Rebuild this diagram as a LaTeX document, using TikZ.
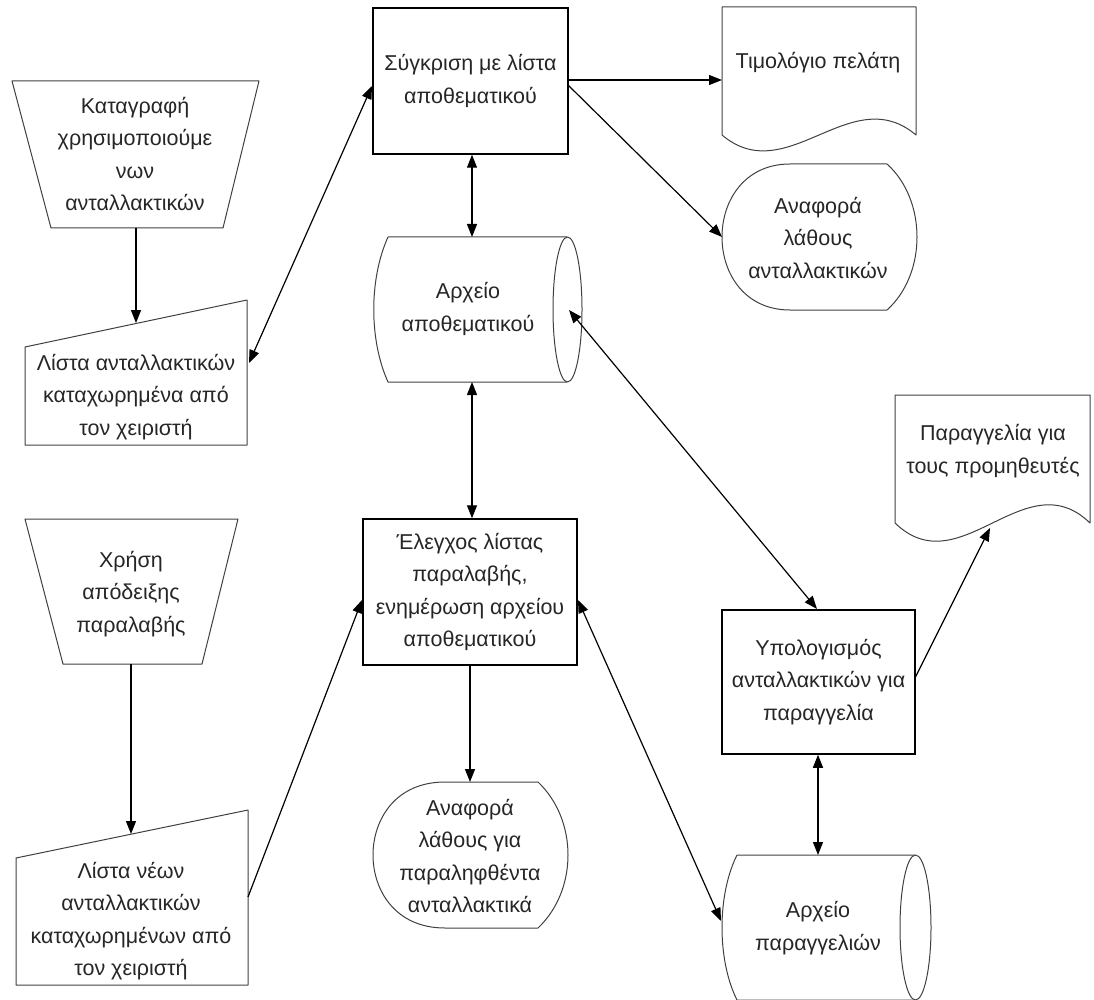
\documentclass[tikz,border=0pt]{standalone}
\usepackage{fontspec}
\setmainfont{Liberation Sans}
\usetikzlibrary{arrows.meta}
\tikzset{
  txt/.style={align=center, text=black!85, font=\fontsize{21.5}{32.5}\selectfont, inner sep=0pt},
  procbox/.style={draw=black, line width=1.5pt, inner sep=0pt, align=center, text=black!85, font=\fontsize{21.5}{32.5}\selectfont},
  outline/.style={draw=black!75, line width=1pt, line join=round},
  conn/.style={draw=black, line width=1.2pt},
  tip/.style={-{Triangle[length=13pt,width=10pt]}},
  bitip/.style={{Triangle[length=13pt,width=10pt]}-{Triangle[length=13pt,width=10pt]}}
}
\begin{document}
\begin{tikzpicture}[x=1pt,y=-1pt]
\useasboundingbox (0,0) rectangle (1094,1000);
\begin{scope}
\clip (0,0) rectangle (1094,1000);
% trapezoid 1
\draw[outline] (12,81) -- (259,81) -- (223,228) -- (51,228) -- cycle;
\node[txt] (trapA) at (135,154) {Καταγραφή\\χρησιμοποιούμε\\νων\\ανταλλακτικών};
\coordinate (trapAb) at (136,228);
% manual input 1
\draw[outline] (25,347) -- (247,300) -- (247,445) -- (25,445) -- cycle;
\node[txt] (manA) at (136,397) {Λίστα ανταλλακτικών\\καταχωρημένα από\\τον χειριστή};
\coordinate (manAt) at (136,323);
\coordinate (manAr) at (249,363);
% trapezoid 2
\draw[outline] (25,519) -- (238,519) -- (202,664) -- (63,664) -- cycle;
\node[txt] (trapB) at (131,594) {Χρήση\\απόδειξης\\παραλαβής};
\coordinate (trapBb) at (131,664);
% manual input 2
\draw[outline] (16,858) -- (248,810) -- (248,985) -- (16,985) -- cycle;
\node[txt] (manB) at (131,921) {Λίστα νέων\\ανταλλακτικών\\καταχωρημένων από\\τον χειριστή};
\coordinate (manBt) at (131,834);
\coordinate (manBr) at (248,897);
% process boxes
\node[procbox, minimum width=195pt, minimum height=146pt] (boxA) at (470.5,81) {Σύγκριση με λίστα\\αποθεματικού};
\node[procbox, minimum width=214pt, minimum height=146pt] (boxB) at (470,592) {Έλεγχος λίστας\\παραλαβής,\\ενημέρωση αρχείου\\αποθεματικού};
\node[procbox, minimum width=193pt, minimum height=144pt] (boxC) at (818.5,682) {Υπολογισμός\\ανταλλακτικών για\\παραγγελία};
% cylinder 1
\draw[outline] (388,237) -- (567,237) (567,382) -- (388,382) .. controls (369,340) and (369,279) .. (388,237);
\draw[outline] (567.5,309.5) ellipse [x radius=14.5, y radius=72.5];
\node[txt] (cylA) at (468,309) {Αρχείο\\αποθεματικού};
\coordinate (cylAt) at (472,237);
\coordinate (cylAb) at (472,382);
\coordinate (cylAr) at (569,310);
% cylinder 2
\draw[outline] (737,855) -- (915,855) (915,1000) -- (737,1000) .. controls (717,960) and (717,895) .. (737,855);
\draw[outline] (915.5,927.5) ellipse [x radius=15.5, y radius=72.5];
\node[txt] (cylB) at (818,928) {Αρχείο\\παραγγελιών};
\coordinate (cylBt) at (818,855);
\coordinate (cylBl) at (721,921);
% document 1
\draw[outline] (722,7) -- (916,7) -- (916,135) .. controls (851,80) and (787,190) .. (722,135) -- cycle;
\node[txt] (docA) at (818,63) {Τιμολόγιο πελάτη};
\coordinate (docAl) at (722,80);
% document 2
\draw[outline] (895,395) -- (1090,395) -- (1090,523) .. controls (1025,460) and (960,586) .. (895,523) -- cycle;
\node[txt] (docB) at (993,451) {Παραγγελία για\\τους προμηθευτές};
\coordinate (docBw) at (990,528);
% display 1
\draw[outline] (790,164) -- (887,164) .. controls (927,200) and (927,274) .. (887,310) -- (790,310)
  .. controls (745,310) and (722,274) .. (722,237) .. controls (722,200) and (745,164) .. (790,164) -- cycle;
\node[txt] (dispA) at (818,238) {Αναφορά\\λάθους\\ανταλλακτικών};
\coordinate (dispAl) at (722,237);
% display 2
\draw[outline] (445,782) -- (538,782) .. controls (578,820) and (578,890) .. (538,928) -- (445,928)
  .. controls (395,928) and (373,890) .. (373,855) .. controls (373,820) and (395,782) .. (445,782) -- cycle;
\node[txt] (dispB) at (470,856) {Αναφορά\\λάθους για\\παραληφθέντα\\ανταλλακτικά};
\coordinate (dispBt) at (470,782);
% connectors
\coordinate (boxAl) at (372,86);
\coordinate (boxAr) at (568,85);
\coordinate (boxBl) at (362,600);
\coordinate (boxBr) at (578,600);
\coordinate (boxCt) at (817,609);
\coordinate (boxCr) at (915,678);
\draw[conn, tip] (trapAb) -- (manAt);
\draw[conn, bitip] (manAr) -- (boxAl);
\draw[conn, bitip] (boxA.south -| cylAt) -- (cylAt);
\draw[conn, tip] (boxA.east |- docAl) -- (docAl);
\draw[conn, tip] (boxAr) -- (dispAl);
\draw[conn, bitip] (cylAr) -- (boxCt);
\draw[conn, bitip] (cylAb) -- (boxB.north -| cylAb);
\draw[conn, tip] (trapBb) -- (manBt);
\draw[conn, tip] (manBr) -- (boxBl);
\draw[conn, bitip] (boxBr) -- (cylBl);
\draw[conn, tip] (boxB.south) -- (dispBt);
\draw[conn, tip] (boxCr) -- (docBw);
\draw[conn, bitip] (boxC.south -| cylBt) -- (cylBt);
\end{scope}
\end{tikzpicture}
\end{document}
